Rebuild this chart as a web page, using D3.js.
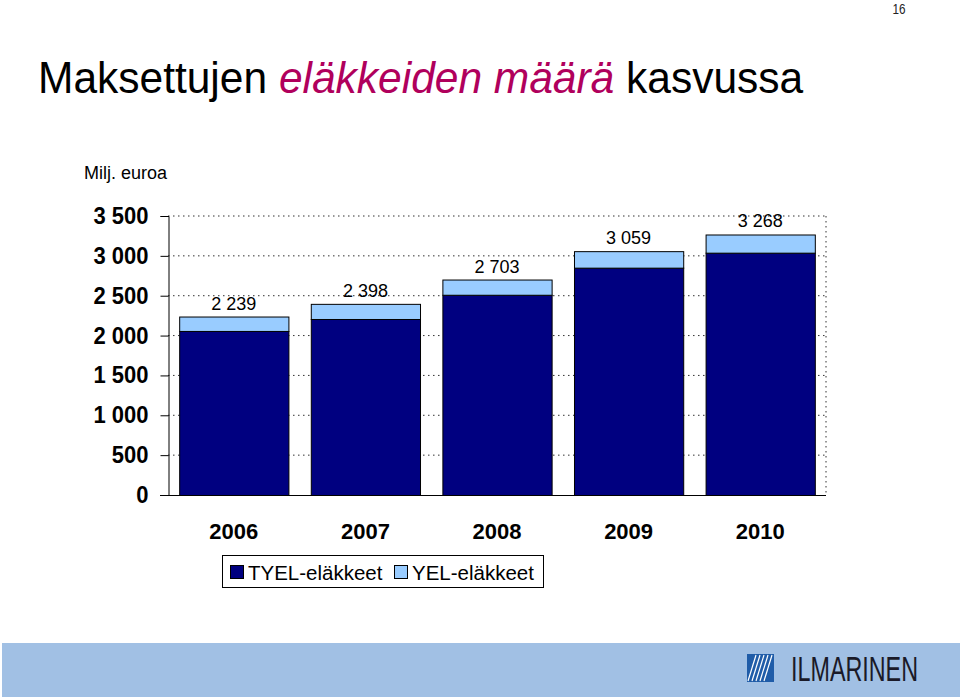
<!DOCTYPE html>
<html><head><meta charset="utf-8">
<script src="https://cdn.jsdelivr.net/npm/d3@7"></script>
<style>body{margin:0;background:#fff}svg{display:block}text{font-family:"Liberation Sans",Arial,sans-serif}</style>
</head><body><svg id="c" width="960" height="697"></svg>
<script>
const years = ["2006", "2007", "2008", "2009", "2010"];
const tyel = [2058, 2208, 2512, 2852, 3040];
const yel = [181, 190, 191, 207, 228];
const yTicks = [0, 500, 1000, 1500, 2000, 2500, 3000, 3500];
const seriesNames = ["TYEL-eläkkeet", "YEL-eläkkeet"];
const seriesColors = ["#000080", "#99ccff"];
const unitLabel = "Milj. euroa";
const titleParts = ["Maksettujen ", "eläkkeiden määrä", " kasvussa"];
const pageNumber = "16";
const brand = "ILMARINEN";

const svg = d3.select("#c");
const fmt = d3.formatLocale({decimal: ",", thousands: " ", grouping: [3], currency: ["", " €"]}).format(",d");

const L = 168, R = 826, T = 216, B = 495;
const x = d3.scaleBand().domain(years).range([L, R]).paddingInner(0.17).paddingOuter(0.085);
const y = d3.scaleLinear().domain([0, 3500]).range([B, T]);

const rows = years.map((yr, i) => ({year: yr, TYEL: tyel[i], YEL: yel[i]}));
const stack = d3.stack().keys(["TYEL", "YEL"])(rows);

// page number
svg.append("text").attr("transform", "translate(899,14) scale(0.9,1.15)").attr("text-anchor", "middle")
  .attr("font-size", 13).attr("fill", "#222").text(pageNumber);

// title
const title = svg.append("text").attr("transform", "translate(38,93) scale(1,1.04)").attr("font-size", 42.5).attr("fill", "#000");
title.append("tspan").text(titleParts[0]);
title.append("tspan").attr("fill", "#b0005c").attr("font-style", "italic").text(titleParts[1]);
title.append("tspan").text(titleParts[2]);

// unit label
svg.append("text").attr("x", 84).attr("y", 179).attr("font-size", 18).attr("fill", "#000").text(unitLabel);

// gridlines (dotted)
svg.append("g").selectAll("line").data(yTicks.filter(d => d > 0)).join("line")
  .attr("x1", L).attr("x2", R).attr("y1", d => y(d)).attr("y2", d => y(d))
  .attr("stroke", "#333").attr("stroke-width", 1).attr("stroke-dasharray", "1.5,3.5");
// right border dotted
svg.append("line").attr("x1", R).attr("x2", R).attr("y1", T).attr("y2", B)
  .attr("stroke", "#333").attr("stroke-width", 1).attr("stroke-dasharray", "1.5,3.5");

// bars
svg.append("g").selectAll("g").data(stack).join("g")
  .attr("fill", (d, i) => seriesColors[i])
  .selectAll("rect").data(d => d).join("rect")
  .attr("x", d => x(d.data.year) + 0.5)
  .attr("y", d => y(d[1]) + 0.5)
  .attr("width", x.bandwidth())
  .attr("height", d => y(d[0]) - y(d[1]))
  .attr("stroke", "#000").attr("stroke-width", 1);

// value labels
svg.append("g").selectAll("text").data(rows).join("text")
  .attr("x", d => x(d.year) + x.bandwidth() / 2)
  .attr("y", d => y(d.TYEL + d.YEL) - 7)
  .attr("text-anchor", "middle").attr("font-size", 18).attr("fill", "#000")
  .text(d => fmt(d.TYEL + d.YEL));

// y axis
const yAxis = svg.append("g").attr("transform", `translate(${L + 0.5},0)`)
  .call(d3.axisLeft(y).tickValues(yTicks).tickSize(8).tickPadding(12).tickFormat(fmt));
yAxis.select(".domain").attr("stroke", "#000");
yAxis.selectAll(".tick line").attr("stroke", "#000");
yAxis.selectAll("text").attr("font-size", 22).attr("font-weight", "bold").attr("fill", "#000")
  .attr("font-family", '"Liberation Sans",Arial,sans-serif').attr("transform", "scale(1,1.06)");

// x axis baseline
svg.append("line").attr("x1", L - 8).attr("x2", R).attr("y1", B + 0.5).attr("y2", B + 0.5).attr("stroke", "#000");
const xAxis = svg.append("g").attr("transform", `translate(0,${B})`)
  .call(d3.axisBottom(x).tickSize(0).tickPadding(28));
xAxis.select(".domain").remove();
xAxis.selectAll("text").attr("font-size", 22).attr("font-weight", "bold").attr("fill", "#000")
  .attr("font-family", '"Liberation Sans",Arial,sans-serif');

// legend
const lg = svg.append("g");
lg.append("rect").attr("x", 222.5).attr("y", 555.5).attr("width", 321).attr("height", 32)
  .attr("fill", "#fff").attr("stroke", "#000");
const legendX = [230, 394];
seriesNames.forEach((n, i) => {
  lg.append("rect").attr("x", legendX[i] + 0.5).attr("y", 565.5).attr("width", 13).attr("height", 13)
    .attr("fill", seriesColors[i]).attr("stroke", "#000");
  lg.append("text").attr("x", legendX[i] + 18).attr("y", 580).attr("font-size", 20.5).attr("fill", "#000").text(n);
});

// bottom banner
svg.append("rect").attr("x", 2).attr("y", 643).attr("width", 958).attr("height", 54).attr("fill", "#a1c0e4");
const logo = svg.append("g");
logo.append("rect").attr("x", 747).attr("y", 654).attr("width", 27).attr("height", 28).attr("fill", "#1f5ca8");
[0, 4, 8, 12, 16].forEach(o => {
  logo.append("line").attr("x1", 748 + o).attr("y1", 681).attr("x2", 756 + o).attr("y2", 655)
    .attr("stroke", "#fff").attr("stroke-width", 1.2);
});
logo.append("text").attr("transform", "translate(791,681) scale(0.648,1)").attr("font-size", 36)
  .attr("fill", "#1a1a28").text(brand);
</script></body></html>
